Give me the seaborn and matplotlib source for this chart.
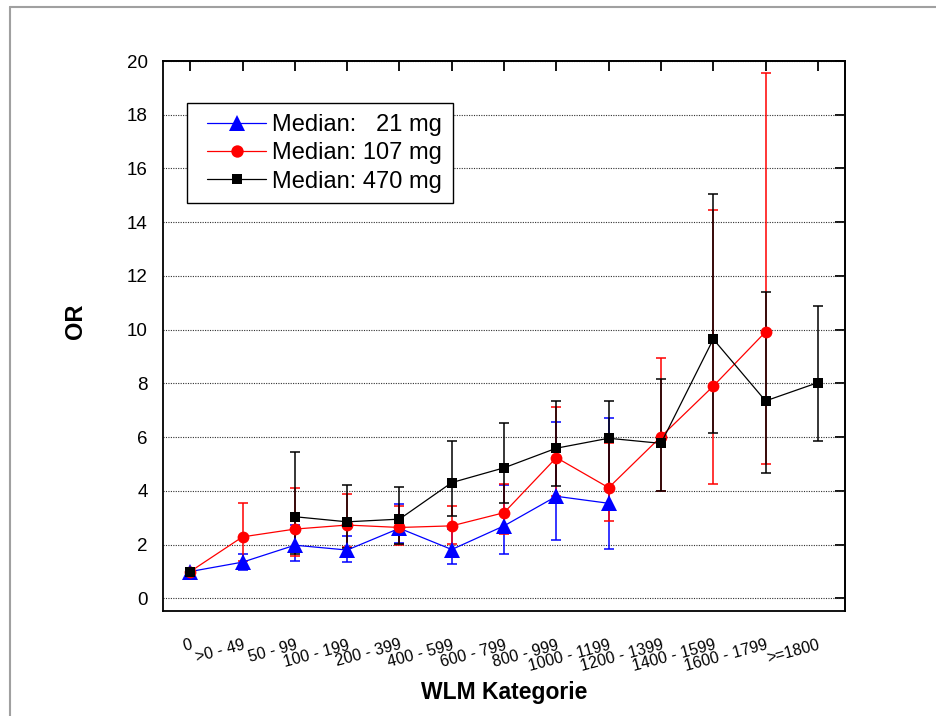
import numpy as np
import pandas as pd
import matplotlib
matplotlib.use("Agg")
import matplotlib.pyplot as plt
from matplotlib.lines import Line2D
from matplotlib.legend_handler import HandlerLine2D
import seaborn as sns

nan = np.nan

# WLM exposure categories
categories = ["0", ">0 - 49", "50 - 99", "100 - 199", "200 - 399", "400 - 599",
              "600 - 799", "800 - 999", "1000 - 1199", "1200 - 1399",
              "1400 - 1599", "1600 - 1799", ">=1800"]

# Odds ratios with lower / upper confidence limits per category
or_21 = [1.0, 1.35, 1.98, 1.80, 2.61, 1.82, 2.70, 3.80, 3.54, nan, nan, nan, nan]
lo_21 = [nan, 1.07, 1.39, 1.35, 2.05, 1.27, 1.66, 2.17, 1.84, nan, nan, nan, nan]
hi_21 = [nan, 1.66, 2.73, 2.33, 3.51, 2.60, 4.22, 6.57, 6.70, nan, nan, nan, nan]

or_107 = [1.0, 2.29, 2.58, 2.73, 2.64, 2.70, 3.19, 5.24, 4.12, 6.02, 7.90, 9.92, nan]
lo_107 = [nan, 1.40, 1.56, 1.90, 2.00, 2.01, 2.38, 3.80, 2.87, 3.99, 4.26, 4.99, nan]
hi_107 = [nan, 3.56, 4.10, 3.87, 3.44, 3.44, 4.26, 7.11, 5.77, 8.96, 14.46, 19.57, nan]

or_470 = [1.0, nan, 3.04, 2.85, 2.95, 4.31, 4.86, 5.59, 5.96, 5.77, 9.65, 7.35, 8.03]
lo_470 = [nan, nan, 1.64, 1.86, 2.02, 3.07, 3.54, 4.18, 4.18, 3.99, 6.14, 4.67, 5.87]
hi_470 = [nan, nan, 5.46, 4.21, 4.16, 5.87, 6.52, 7.34, 7.34, 8.15, 15.04, 11.41, 10.89]

labels = ["Median:   21 mg", "Median: 107 mg", "Median: 470 mg"]
y_ticks = list(range(0, 21, 2))

sns.set_theme(style="white")
plt.rcParams["font.family"] = ["Liberation Sans", "DejaVu Sans"]
plt.rcParams.update({"text.color": "black", "axes.labelcolor": "black",
                     "xtick.color": "black", "ytick.color": "black"})

fig = plt.figure(figsize=(9.37, 7.16), dpi=100)
ax = fig.add_axes([0.174, 0.1466, 0.7279, 0.7682])

xpos = np.arange(len(categories))

styles = [
    dict(color="#0000ff", marker="^", ms=11),
    dict(color="#ff0000", marker="o", ms=8.5),
    dict(color="#000000", marker="s", ms=7.2),
]
data = [(or_21, lo_21, hi_21), (or_107, lo_107, hi_107), (or_470, lo_470, hi_470)]

# confidence intervals
for (orv, lo, hi), st in zip(data, styles):
    orv, lo, hi = map(np.asarray, (orv, lo, hi))
    ok = np.isfinite(lo) & np.isfinite(hi)
    ax.errorbar(xpos[ok], orv[ok], yerr=[orv[ok] - lo[ok], hi[ok] - orv[ok]],
                fmt="none", ecolor=st["color"], elinewidth=1.1, capsize=3.8,
                capthick=1.1, zorder=2)

# connected point estimates; missing categories break the line
for (orv, _, _), st in zip(data, styles):
    y = pd.Series(orv, dtype=float)
    seg = y.isna().cumsum()
    df = pd.DataFrame({"x": xpos, "y": y, "seg": seg}).dropna()
    sns.lineplot(data=df, x="x", y="y", units="seg", estimator=None, ax=ax,
                 color=st["color"], linewidth=0.9, marker=st["marker"],
                 markersize=st["ms"], markeredgewidth=0, legend=False, zorder=3)

ax.set_xlim(-0.52, 12.52)
ax.set_ylim(-0.47, 20)
ax.set_xticks(xpos)
ax.set_xticklabels(categories, rotation=15, ha="right", va="top",
                   rotation_mode="anchor", fontsize=11.5)
ax.set_yticks(y_ticks)
ax.set_yticklabels([str(v) for v in y_ticks], fontsize=13.5)
ax.tick_params(axis="x", direction="out", length=7, width=1.3, pad=12, colors="black")
ax.tick_params(axis="y", direction="out", length=7, width=1.3, pad=4, colors="black")

ax.yaxis.grid(True, linestyle=(0, (1, 1.2)), color="#303030", linewidth=0.8)
ax.xaxis.grid(False)
ax.set_axisbelow(True)

for sp in ax.spines.values():
    sp.set_visible(True)
    sp.set_color("black")
    sp.set_linewidth(1.3)

# inward ticks on the top and right edges
top = ax.secondary_xaxis("top")
top.set_xticks(xpos)
top.set_xticklabels([])
top.tick_params(direction="in", length=7, width=1.3, colors="black")
top.spines["top"].set_linewidth(1.3)
right = ax.secondary_yaxis("right")
right.set_yticks(y_ticks)
right.set_yticklabels([])
right.tick_params(direction="in", length=7, width=1.3, colors="black")
right.spines["right"].set_linewidth(1.3)

ax.set_xlabel("WLM Kategorie", fontsize=16.5, fontweight="bold", color="black")
ax.xaxis.set_label_coords(0.5, -0.1265)
ax.set_ylabel("OR", fontsize=17, fontweight="bold", color="black")
ax.yaxis.set_label_coords(-0.112, 0.526)

handles = [Line2D([0], [0], color=st["color"], marker=st["marker"],
                  markersize=st["ms"] * 1.05, markeredgewidth=0, linewidth=0.9)
           for st in styles]
leg = ax.legend(handles, labels, loc="upper left", bbox_to_anchor=(0.0356, 0.923),
                borderaxespad=0, fontsize=17, frameon=True, fancybox=False,
                edgecolor="black", framealpha=1, handlelength=2.87,
                handletextpad=0.28, labelspacing=0.27, borderpad=0.45,
                numpoints=1, handler_map={Line2D: HandlerLine2D(xpad=0.4)})
leg.get_frame().set_linewidth(1.0)

# thin grey page border on the top and left
fig.add_artist(Line2D([10 / 937, 10 / 937], [0, 1 - 6.5 / 716],
                      transform=fig.transFigure, color="#a0a0a0", lw=1.5))
fig.add_artist(Line2D([10 / 937, 1], [1 - 6.5 / 716, 1 - 6.5 / 716],
                      transform=fig.transFigure, color="#a0a0a0", lw=1.5))

fig.savefig("out.png", dpi=100, facecolor="white")
